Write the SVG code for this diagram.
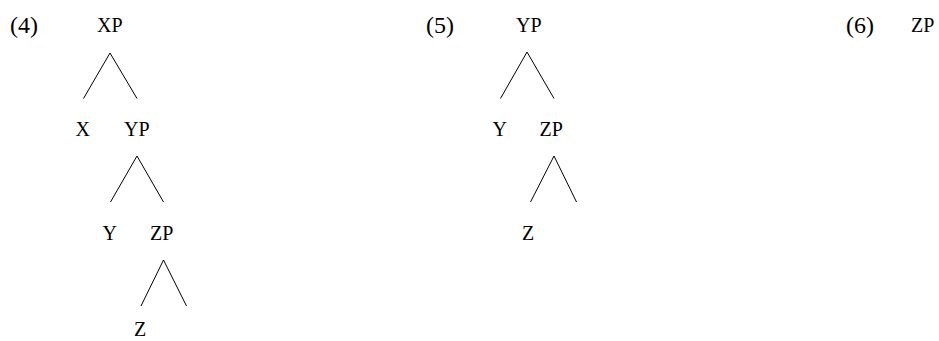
<svg xmlns="http://www.w3.org/2000/svg" width="939" height="341" viewBox="0 0 939 341">
<style>
text{font-family:"Liberation Serif","Times New Roman",serif;font-size:20px;fill:#000}
.num{font-size:24px}
.e{stroke:#000;stroke-width:1;fill:none}
</style>
<rect width="939" height="341" fill="#fff"/>
<g id="ex4">
<text class="num" x="10" y="33">(4)</text>
<g id="n4-XP"><text x="97" y="32">XP</text></g>
<g id="n4-X"><text x="75.5" y="136">X</text></g>
<g id="n4-YP"><text x="124" y="136">YP</text></g>
<g id="n4-Y"><text x="102.5" y="240">Y</text></g>
<g id="n4-ZP"><text x="150" y="240">ZP</text></g>
<g id="n4-Z"><text x="134" y="336">Z</text></g>
</g>
<g id="ex5">
<text class="num" x="426" y="33">(5)</text>
<g id="n5-YP"><text x="516" y="32">YP</text></g>
<g id="n5-Y"><text x="492.5" y="136">Y</text></g>
<g id="n5-ZP"><text x="539.5" y="136">ZP</text></g>
<g id="n5-Z"><text x="522" y="240">Z</text></g>
</g>
<g id="ex6">
<text class="num" x="846" y="33">(6)</text>
<g id="n6-ZP"><text x="911" y="32">ZP</text></g>
</g>
<g id="connectors">
<path class="e" d="M83.5 98.5 L110 53 L137 98.5"/>
<path class="e" d="M110.5 202 L137 156 L163.5 202"/>
<path class="e" d="M141 306 L163.5 260 L186.5 306"/>
<path class="e" d="M500.5 98.5 L527 52 L554 98.5"/>
<path class="e" d="M530.5 202 L554 156 L576.5 202"/>
</g>
</svg>
